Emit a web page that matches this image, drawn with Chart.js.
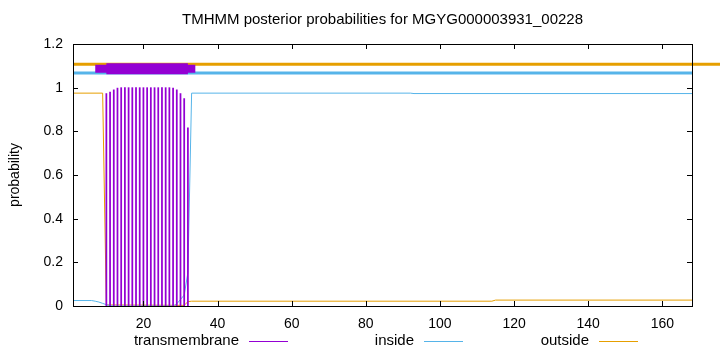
<!DOCTYPE html>
<html>
<head>
<meta charset="utf-8">
<script src="https://cdn.jsdelivr.net/npm/chart.js@4"></script>
<style>
html,body{margin:0;padding:0;background:#fff;}
#wrap{width:720px;height:352px;}
</style>
</head>
<body>
<div id="wrap"><canvas id="c" width="720" height="352"></canvas></div>
<script>
// ---- data ----
const chartTitle = "TMHMM posterior probabilities for MGYG000003931_00228";
const seriesLabels = ["transmembrane", "inside", "outside"];

// transmembrane posterior (impulses), residue -> probability
const tmPos  = [10,11,12,13,14,15,16,17,18,19,20,21,22,23,24,25,26,27,28,29,30,31,32];
const tmProb = [0.973,0.98,0.99,0.998,1,1,1,1,1,1,1,1,1,1,1,1,1,1,0.998,0.99,0.973,0.95,0.816];

// inside posterior (line)
const insidePos  = [1,6,7,8,9,10,11,12,28,29,30,31,32,33,92,93,168];
const insideProb = [0.025,0.025,0.022,0.018,0.012,0.006,0.002,0,0,0.01,0.03,0.05,0.153,0.975,0.975,0.973,0.973];

// outside posterior (line)
const outsidePos  = [1,9,10,31,32,33,114,115,168];
const outsideProb = [0.975,0.975,0.005,0.003,0.02,0.022,0.022,0.027,0.027];

// predicted topology strips at top
const outsideStrip = [1, 190];
const insideStrip  = [1, 168];
const tmStripCore  = [10, 32];
const tmStripEnds  = [7, 34];

const xTicks = [20,40,60,80,100,120,140,160];
const yTicks = [0,0.2,0.4,0.6,0.8,1,1.2];
const xRange = [1, 168];
const yRange = [0, 1.2];

// ---- styling ----
const PURPLE = '#9400D3', BLUE = '#56B4E9', ORANGE = '#E69F00';
const FONT = '"Liberation Sans", Arial, sans-serif';
const levels = {outside: 1.107, inside: 1.067, tm: 1.087};

const zip = (xs, ys) => xs.map((x, i) => ({x: x, y: ys[i]}));
const strip = (xs, lvl) => xs.map(x => ({x: x, y: lvl}));

const datasets = [
  {type:'bar', label: seriesLabels[0], data: zip(tmPos, tmProb), backgroundColor: PURPLE,
   borderColor: PURPLE, borderWidth: 0, barThickness: 1.1, order: 5},
  {type:'line', label: seriesLabels[1], data: zip(insidePos, insideProb), borderColor: BLUE,
   borderWidth: 1, pointRadius: 0, tension: 0, order: 6},
  {type:'line', label: seriesLabels[2], data: zip(outsidePos, outsideProb), borderColor: ORANGE,
   borderWidth: 1, pointRadius: 0, tension: 0, order: 7},
  {type:'line', label: '_outStrip', data: strip(outsideStrip, levels.outside), borderColor: ORANGE,
   borderWidth: 3, pointRadius: 0, clip: false, order: 4},
  {type:'line', label: '_inStrip', data: strip(insideStrip, levels.inside), borderColor: BLUE,
   borderWidth: 3, pointRadius: 0, order: 3},
  {type:'line', label: '_tmEnds', data: strip(tmStripEnds, levels.tm), borderColor: PURPLE,
   borderWidth: 8, pointRadius: 0, borderCapStyle: 'butt', order: 2},
  {type:'line', label: '_tmCore', data: strip(tmStripCore, levels.tm), borderColor: PURPLE,
   borderWidth: 11, pointRadius: 0, borderCapStyle: 'butt', order: 1}
];

const frame = {
  id: 'frame',
  afterDraw(chart) {
    const {ctx, chartArea: a, scales} = chart;
    ctx.save();
    // border
    ctx.strokeStyle = '#000';
    ctx.lineWidth = 1;
    ctx.strokeRect(a.left + 0.5, a.top + 0.5, a.right - a.left, a.bottom - a.top);
    // inward ticks
    ctx.beginPath();
    const tl = 5;
    xTicks.forEach(v => {
      const px = Math.round(scales.x.getPixelForValue(v)) + 0.5;
      ctx.moveTo(px, a.bottom); ctx.lineTo(px, a.bottom - tl);
      ctx.moveTo(px, a.top); ctx.lineTo(px, a.top + tl);
    });
    yTicks.forEach(v => {
      const py = Math.round(scales.y.getPixelForValue(v)) + 0.5;
      ctx.moveTo(a.left, py); ctx.lineTo(a.left + tl, py);
      ctx.moveTo(a.right, py); ctx.lineTo(a.right - tl, py);
    });
    ctx.stroke();
    // title
    ctx.fillStyle = '#000';
    ctx.font = '15px ' + FONT;
    ctx.textAlign = 'center';
    ctx.textBaseline = 'middle';
    ctx.fillText(chartTitle, (a.left + a.right) / 2, 20);
    // legend
    ctx.font = '15px ' + FONT;
    ctx.textAlign = 'right';
    const ly = 341;
    const legendX = [239, 414, 589];
    [0,1,2].forEach(i => {
      const ds = chart.data.datasets[i];
      ctx.fillStyle = '#000';
      ctx.fillText(ds.label, legendX[i], ly);
      ctx.strokeStyle = ds.borderColor || ds.backgroundColor;
      ctx.lineWidth = 1;
      ctx.beginPath();
      ctx.moveTo(legendX[i] + 10, ly + 0.5);
      ctx.lineTo(legendX[i] + 49, ly + 0.5);
      ctx.stroke();
    });
    ctx.restore();
  }
};

new Chart(document.getElementById('c'), {
  type: 'line',
  data: {datasets: datasets},
  options: {
    responsive: false,
    animation: false,
    layout: {padding: {top: 44, right: 28, left: 0, bottom: 0}},
    plugins: {legend: {display: false}, title: {display: false}, tooltip: {enabled: false}},
    scales: {
      x: {
        type: 'linear', position: 'bottom', min: xRange[0], max: xRange[1], offset: false,
        grid: {display: false, offset: false}, border: {display: false},
        afterFit: s => { s.height = 46; },
        afterBuildTicks: s => { s.ticks = xTicks.map(v => ({value: v})); },
        ticks: {font: {family: FONT, size: 14}, color: '#000', padding: 2, maxRotation: 0, autoSkip: false}
      },
      y: {
        type: 'linear', min: yRange[0], max: yRange[1],
        grid: {display: false, drawTicks: false}, border: {display: false},
        afterFit: s => { s.width = 73; },
        afterBuildTicks: s => { s.ticks = yTicks.map(v => ({value: v})); },
        ticks: {font: {family: FONT, size: 14}, color: '#000', padding: 10,
                callback: v => String(+v.toFixed(1))},
        title: {display: true, text: 'probability', font: {family: FONT, size: 14}, color: '#000',
                padding: {top: 7, bottom: 0}}
      }
    }
  },
  plugins: [frame]
});
</script>
</body>
</html>
